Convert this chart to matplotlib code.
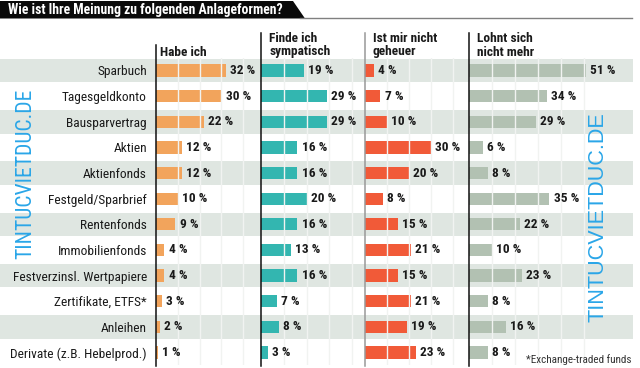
import matplotlib
matplotlib.use('Agg')
import matplotlib.pyplot as plt
from matplotlib import font_manager as fm
from matplotlib.lines import Line2D
from matplotlib.patches import Polygon

# ---------------- data ----------------
categories = ["Sparbuch", "Tagesgeldkonto", "Bausparvertrag", "Aktien", "Aktienfonds",
              "Festgeld/Sparbrief", "Rentenfonds", "Immobilienfonds",
              "Festverzinsl. Wertpapiere", "Zertifikate, ETFS*", "Anleihen",
              "Derivate (z.B. Hebelprod.)"]
habe_ich = [32, 30, 22, 12, 12, 10, 9, 4, 4, 3, 2, 1]
finde_sympatisch = [19, 29, 29, 16, 16, 20, 16, 13, 16, 7, 8, 3]
nicht_geheuer = [4, 7, 10, 30, 20, 8, 15, 21, 15, 21, 19, 23]
lohnt_nicht = [51, 34, 29, 6, 8, 35, 22, 10, 23, 8, 16, 8]
headers = [["Habe ich"], ["Finde ich", "sympatisch"], ["Ist mir nicht", "geheuer"],
           ["Lohnt sich", "nicht mehr"]]
title = "Wie ist Ihre Meinung zu folgenden Anlageformen?"
footnote = "*Exchange-traded funds"
watermark = "TINTUCVIETDUC.DE"

# ---------------- style ----------------
ORANGE = '#f2a45c'
TEAL = '#33b6b0'
RED = '#f15a38'
SAGE = '#b2c1b2'
ROW = '#dfe6e1'
GRID = '#f1f3f1'
BLUE = '#2aa6e8'
TXT = '#1a1a1a'

avail = {f.name for f in fm.fontManager.ttflist}
def pick(*names):
    for n in names:
        if n in avail:
            return n
    return 'DejaVu Sans'
NARROW = pick('Liberation Sans Narrow', 'DejaVu Sans Condensed', 'Roboto Condensed', 'Liberation Sans')
REG = pick('Liberation Sans', 'Arial', 'DejaVu Sans')

W, H = 640, 368
fig = plt.figure(figsize=(6.4, 3.68), dpi=100)
def fx(x): return x / W
def fy(y): return 1 - y / H

n = len(categories)
top, bot = 57.68, 365.32

# background row bands
bg = fig.add_axes([0, fy(bot), fx(633), (bot - top) / H])
bg.set_xlim(0, 1)
bg.set_ylim(n - 0.5, -0.5)
bg.axis('off')
for i in range(0, n, 2):
    bg.axhspan(i - 0.46, i + 0.46, color=ROW, lw=0)

panels = [
    (155.7, 260.7, 47.9, habe_ich, ORANGE, [10, 20, 30, 40]),
    (260.7, 365.0, 45.5, finde_sympatisch, TEAL, [10, 20, 30, 40]),
    (365.0, 469.3, 47.5, nicht_geheuer, RED, [10, 20, 30, 40]),
    (469.3, 633.0, 71.5, lohnt_nicht, SAGE, [10, 20, 30, 40, 50]),
]

for k, (x0, x1, xmax, vals, col, grid) in enumerate(panels):
    ax = fig.add_axes([fx(x0), fy(bot), fx(x1 - x0), (bot - top) / H])
    ax.set_facecolor('none')
    bars = ax.barh(range(n), vals, height=0.48, color=col, zorder=2, lw=0)
    for g in grid:
        ax.axvline(g, color=GRID, lw=1.0, zorder=3)
    ax.bar_label(bars, labels=[f"{v} %" for v in vals], padding=3, fontsize=9.6,
                 fontweight='bold', family=NARROW, color=TXT, zorder=5)
    ax.set_xlim(0, xmax)
    ax.set_ylim(n - 0.5, -0.5)
    for s in ax.spines.values():
        s.set_visible(False)
    ax.set_xticks([])
    if k == 0:
        ax.set_yticks(range(n))
        ax.set_yticklabels(categories, fontsize=9.6, family=NARROW, color=TXT)
        ax.tick_params(axis='y', length=0, pad=6.3)
    else:
        ax.set_yticks([])

# divider lines
for x, y0, c in [(155.7, 45, '#111111'), (260.7, 33, '#111111'),
                 (365.0, 33, '#999999'), (469.3, 33, '#111111')]:
    fig.add_artist(Line2D([fx(x), fx(x)], [fy(y0), fy(366)], color=c, lw=1.1,
                          transform=fig.transFigure, zorder=2))

# headers
hx = [160.5, 269.3, 372.7, 477.3]
for x, lines in zip(hx, headers):
    if len(lines) == 1:
        fig.text(fx(x), fy(55.5), lines[0], fontsize=9.6, fontweight='bold',
                 family=NARROW, color=TXT, va='baseline')
    else:
        fig.text(fx(x), fy(42), lines[0], fontsize=9.6, fontweight='bold',
                 family=NARROW, color=TXT, va='baseline')
        fig.text(fx(x), fy(55.5), lines[1], fontsize=9.6, fontweight='bold',
                 family=NARROW, color=TXT, va='baseline')

# title band
poly = Polygon([(fx(0), fy(1)), (fx(293), fy(1)), (fx(305), fy(18.5)), (fx(0), fy(18.5))],
               closed=True, transform=fig.transFigure, color='#0a0a0a', lw=0)
fig.add_artist(poly)
fig.add_artist(Line2D([fx(300), fx(632)], [fy(18), fy(18)], color='#808080', lw=1.0,
                      transform=fig.transFigure))
fig.text(fx(8), fy(14.3), title, fontsize=9.9, fontweight='bold', family=NARROW,
         color='white', va='baseline')

# footnote
fig.text(fx(632), fy(359.5), footnote, fontsize=8, family=NARROW, color='#333333',
         ha='right', va='center')

# watermarks
fig.text(fx(26), fy(173.5), watermark, rotation=90, ha='center', va='center',
         fontsize=15.6, family=NARROW, color=BLUE, zorder=10)
fig.text(fx(598.5), fy(217.5), watermark, rotation=90, ha='center', va='center',
         fontsize=15.6, family=REG, color=BLUE, zorder=10)

fig.savefig('out.png', dpi=100)
